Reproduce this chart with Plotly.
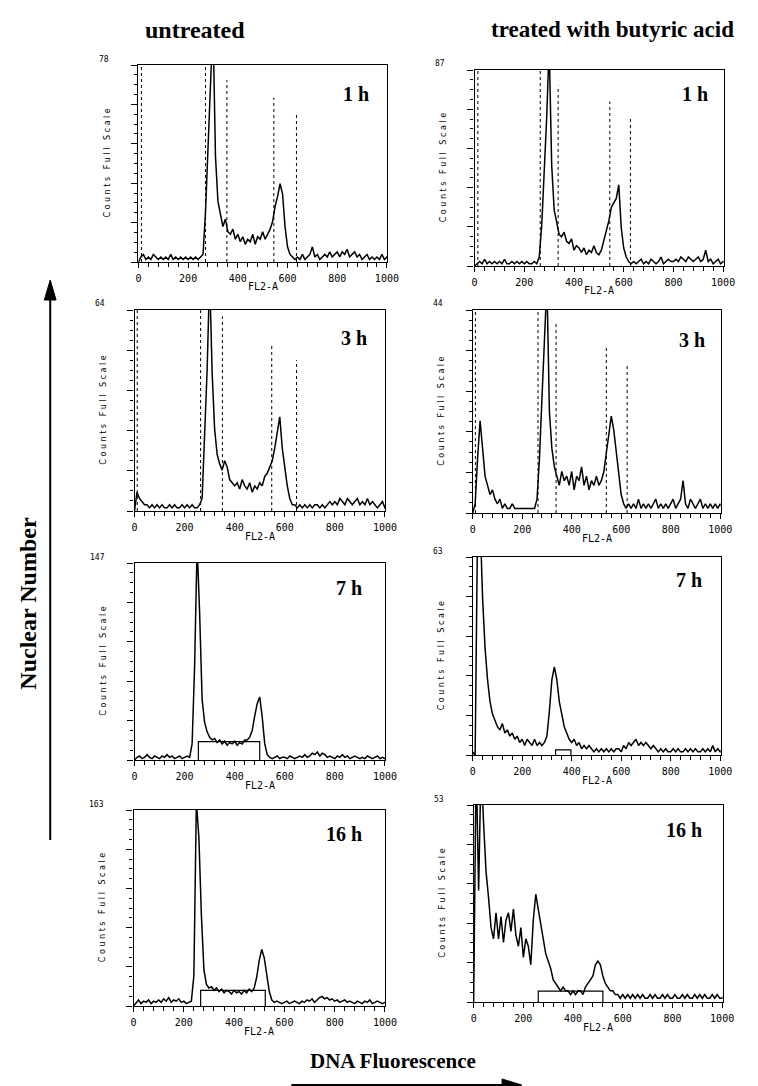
import plotly.graph_objects as go

W, H = 758, 1086

# ---------------- data (counts per 10-channel bin) ----------------
CHANNELS = list(range(0, 1030, 10))

UNTREATED_1H = [
    0, 2, 3, 1, 2, 1, 3, 2, 1, 2,
    1, 2, 1, 3, 1, 2, 1, 2, 1, 2,
    1, 2, 1, 2, 1, 2, 3, 20, 45, 72,
    95, 42, 24, 19, 14, 17, 12, 11, 13, 9,
    11, 8, 10, 7, 9, 8, 11, 7, 10, 9,
    12, 9, 11, 13, 16, 22, 26, 31, 27, 14,
    6, 3, 2, 1, 2, 1, 3, 1, 2, 3,
    6, 2, 3, 1, 2, 3, 2, 4, 2, 3,
    4, 2, 4, 3, 5, 2, 3, 4, 2, 3,
    1, 2, 3, 1, 2, 1, 2, 1, 3, 1,
    2, 1, 2]

TREATED_1H = [
    0, 1, 2, 1, 3, 1, 2, 1, 2, 1,
    2, 1, 3, 1, 1, 2, 1, 2, 1, 2,
    1, 2, 1, 1, 2, 1, 4, 18, 40, 66,
    98, 45, 25, 20, 14, 13, 15, 11, 10, 12,
    7, 9, 8, 6, 8, 5, 7, 6, 9, 6,
    5, 7, 11, 15, 20, 26, 28, 30, 36, 17,
    8, 4, 2, 1, 2, 1, 2, 3, 1, 2,
    1, 3, 2, 1, 2, 4, 1, 2, 3, 2,
    2, 3, 2, 4, 3, 2, 4, 3, 2, 3,
    4, 2, 3, 7, 2, 3, 1, 2, 3, 1,
    2, 1, 2]

UNTREATED_3H = [
    0, 6, 4, 3, 2, 2, 1, 2, 1, 2,
    1, 2, 1, 1, 2, 1, 2, 1, 1, 2,
    1, 2, 1, 2, 1, 1, 2, 4, 22, 45,
    75, 44, 26, 18, 15, 13, 16, 14, 10, 9,
    8, 9, 7, 10, 8, 7, 9, 6, 8, 7,
    9, 8, 11, 12, 14, 16, 20, 25, 30, 20,
    14, 8, 4, 2, 2, 1, 2, 1, 2, 1,
    2, 1, 2, 2, 1, 2, 1, 2, 3, 2,
    3, 2, 4, 3, 2, 4, 3, 2, 3, 4,
    2, 3, 2, 4, 2, 3, 2, 1, 2, 3,
    1, 2, 1]

TREATED_3H = [
    0, 2, 12, 20, 14, 8, 6, 4, 5, 3,
    2, 3, 1, 2, 1, 1, 2, 1, 1, 1,
    1, 1, 1, 1, 1, 1, 3, 12, 25, 40,
    50, 22, 14, 10, 8, 6, 9, 7, 8, 6,
    9, 5, 8, 7, 10, 6, 8, 5, 7, 6,
    8, 6, 7, 9, 13, 17, 21, 18, 13, 8,
    4, 2, 1, 2, 1, 2, 1, 3, 1, 2,
    1, 2, 1, 2, 3, 1, 2, 1, 2, 1,
    2, 3, 1, 2, 3, 7, 2, 1, 3, 2,
    1, 2, 3, 1, 2, 1, 2, 1, 2, 1,
    2, 1, 1]

UNTREATED_7H = [
    0, 2, 3, 1, 2, 4, 2, 1, 3, 2,
    1, 3, 2, 4, 2, 3, 1, 2, 3, 1,
    2, 3, 2, 12, 70, 160, 110, 45, 28, 21,
    17, 15, 16, 13, 15, 12, 14, 11, 13, 12,
    14, 11, 13, 12, 15, 15, 17, 22, 33, 42,
    47, 32, 12, 4, 2, 1, 2, 3, 1, 2,
    2, 1, 3, 2, 1, 2, 3, 2, 4, 2,
    3, 5, 4, 6, 3, 5, 4, 2, 3, 2,
    1, 3, 2, 4, 2, 3, 1, 2, 3, 2,
    1, 2, 1, 3, 2, 1, 2, 3, 1, 2,
    1, 2, 1]

TREATED_7H = [
    1, 0, 75, 75, 50, 34, 24, 17, 13, 11,
    9, 8, 10, 7, 8, 6, 7, 5, 6, 4,
    5, 3, 5, 4, 3, 5, 3, 4, 3, 4,
    6, 14, 24, 28, 24, 17, 13, 9, 7, 5,
    4, 5, 3, 4, 2, 3, 2, 3, 2, 1,
    2, 1, 2, 1, 2, 1, 2, 1, 2, 2,
    1, 3, 2, 4, 3, 4, 5, 3, 4, 3,
    4, 3, 2, 3, 2, 1, 2, 1, 2, 1,
    1, 2, 1, 2, 1, 1, 2, 1, 2, 1,
    2, 1, 1, 2, 1, 2, 1, 3, 1, 2,
    1, 2, 1]

UNTREATED_16H = [
    0, 3, 5, 2, 4, 3, 5, 2, 4, 3,
    5, 3, 6, 4, 7, 3, 5, 4, 6, 3,
    4, 2, 3, 4, 25, 170, 140, 75, 30, 18,
    15, 16, 13, 15, 12, 14, 11, 13, 12, 10,
    13, 11, 12, 10, 13, 11, 14, 12, 15, 24,
    38, 47, 40, 25, 12, 5, 3, 4, 3, 2,
    3, 4, 2, 3, 4, 3, 2, 4, 3, 5,
    4, 6, 3, 5, 7, 8, 6, 7, 5, 6,
    4, 5, 3, 4, 5, 3, 4, 3, 2, 4,
    3, 2, 4, 3, 5, 2, 3, 4, 3, 2,
    3, 4, 2]

TREATED_16H = [
    0, 65, 30, 65, 48, 35, 28, 20, 17, 24,
    17, 23, 16, 22, 24, 19, 25, 18, 15, 20,
    12, 17, 15, 10, 22, 29, 25, 21, 17, 13,
    11, 9, 6, 5, 4, 3, 4, 3, 3, 2,
    3, 2, 3, 3, 2, 4, 5, 6, 7, 10,
    11, 10, 7, 5, 4, 3, 3, 2, 2, 1,
    2, 1, 2, 1, 2, 1, 2, 1, 2, 1,
    1, 2, 1, 2, 1, 1, 2, 1, 2, 1,
    1, 2, 1, 1, 2, 1, 2, 1, 1, 2,
    1, 2, 1, 2, 1, 1, 2, 1, 2, 1,
    1, 2, 1]

SERIES = [UNTREATED_1H, TREATED_1H, UNTREATED_3H, TREATED_3H,
          UNTREATED_7H, TREATED_7H, UNTREATED_16H, TREATED_16H]
FULL_SCALE = [78, 87, 64, 44, 147, 63, 163, 53]
TIME_LABELS = ["1 h", "1 h", "3 h", "3 h", "7 h", "7 h", "16 h", "16 h"]

# gating markers (dashed) for 1 h and 3 h panels: channel and top (counts)
GATE_X = [[12, 270, 356, 545, 636], [13, 264, 336, 544, 627],
          [11, 264, 351, 548, 647], [11, 264, 337, 540, 624],
          [], [], [], []]
GATE_TOP = [[78, 78, 72, 65, 59], [87, 87, 80, 73, 66],
            [64, 64, 62, 53, 48], [44, 44, 41, 36, 32],
            [], [], [], []]
# S-phase marker boxes for 7 h and 16 h panels: (start, end, height)
BOXES = [None, None, None, None,
         (255, 500, 13.7), (335, 397, 1.6), (267, 524, 13), (260, 520, 2.9)]

X_TICKS = [0, 200, 400, 600, 800, 1000]

# ---------------- layout (pixel boxes of the 8 panels) ----------------
PANEL_PX = [  # left, right, top, bottom
    (130, 384, 57, 254), (473, 727, 62, 258),
    (126, 382, 302, 503), (471, 724, 302, 505),
    (126, 382, 555, 752), (471, 724, 549, 747),
    (125, 382, 802, 998), (472, 726, 797, 994),
]
LABEL_PX = [(367, 86), (713, 86), (365, 330), (710, 332),
            (360, 580), (707, 572), (360, 826), (707, 822)]


def px(x):
    return x / W


def py(y):
    return 1 - y / H


fig = go.Figure()
layout = dict(width=W, height=H, margin=dict(l=0, r=0, t=0, b=0),
              paper_bgcolor="white", plot_bgcolor="white", showlegend=False)
annotations = []
shapes = []

MONO = "DejaVu Sans Mono"
SERIF = "Liberation Serif"

for i in range(8):
    n = i + 1
    xa, ya = f"x{n}", f"y{n}"
    left, right, top, bottom = PANEL_PX[i]
    fs = FULL_SCALE[i]

    fig.add_trace(go.Scatter(x=CHANNELS, y=SERIES[i], mode="lines",
                             line=dict(color="black", width=1.5),
                             xaxis=xa, yaxis=ya, hoverinfo="skip"))
    for gx, gt in zip(GATE_X[i], GATE_TOP[i]):
        fig.add_trace(go.Scatter(x=[gx, gx], y=[0, gt], mode="lines",
                                 line=dict(color="black", width=1, dash="3px,3px"),
                                 xaxis=xa, yaxis=ya, hoverinfo="skip"))
    if BOXES[i] is not None:
        b0, b1, bh = BOXES[i]
        fig.add_trace(go.Scatter(x=[b0, b0, b1, b1], y=[0, bh, bh, 0], mode="lines",
                                 line=dict(color="black", width=1.2),
                                 xaxis=xa, yaxis=ya, hoverinfo="skip"))

    key_x = "xaxis" if n == 1 else f"xaxis{n}"
    key_y = "yaxis" if n == 1 else f"yaxis{n}"
    layout[key_x] = dict(
        domain=[px(left), px(right)], range=[0, 1002], anchor=ya,
        showline=True, mirror=True, linecolor="black", linewidth=1.3,
        ticks="outside", ticklen=5, tickwidth=1, tickcolor="black",
        tickvals=X_TICKS, ticktext=[str(v) for v in X_TICKS],
        tickfont=dict(family=MONO, size=10, color="black"),
        ticklabelstandoff=2,
        minor=dict(dtick=40, ticks="outside", ticklen=4, tickcolor="black", tickwidth=1),
        showgrid=False, zeroline=False, fixedrange=True)
    layout[key_y] = dict(
        domain=[py(bottom), py(top)], range=[0, fs], anchor=xa,
        showline=True, mirror=True, linecolor="black", linewidth=1.3,
        ticks="outside", ticklen=6, tickwidth=1, tickcolor="black",
        dtick=fs / 5, showticklabels=False,
        minor=dict(dtick=fs / 20, ticks="outside", ticklen=3, tickcolor="black", tickwidth=1),
        showgrid=False, zeroline=False, fixedrange=True)

    # full-scale value
    annotations.append(dict(x=px(left - 28), y=py(top - 6), xref="paper", yref="paper",
                            text=str(fs), showarrow=False, xanchor="right", yanchor="middle",
                            font=dict(family=MONO, size=8, color="black")))
    # y axis title
    annotations.append(dict(x=px(left - 32), y=py((top + bottom) / 2), xref="paper", yref="paper",
                            text="C o u n t s   F u l l   S c a l e", textangle=-90,
                            showarrow=False, xanchor="center", yanchor="middle",
                            font=dict(family="DejaVu Sans", size=8, color="black")))
    # x axis title
    annotations.append(dict(x=px((left + right) / 2), y=py(bottom + 25), xref="paper", yref="paper",
                            text="FL2-A", showarrow=False, xanchor="center", yanchor="middle",
                            font=dict(family=MONO, size=10, color="black")))
    # time label
    lx, ly = LABEL_PX[i]
    annotations.append(dict(x=px(lx), y=py(ly), xref="paper", yref="paper",
                            text=f"<b>{TIME_LABELS[i]}</b>", showarrow=False,
                            xanchor="right", yanchor="middle",
                            font=dict(family=SERIF, size=20, color="black")))

# column headers
annotations.append(dict(x=px(188), y=py(22), xref="paper", yref="paper", text="<b>untreated</b>",
                        showarrow=False, xanchor="center", yanchor="middle",
                        font=dict(family=SERIF, size=24, color="black")))
annotations.append(dict(x=px(614), y=py(22), xref="paper", yref="paper",
                        text="<b>treated with butyric acid</b>",
                        showarrow=False, xanchor="center", yanchor="middle",
                        font=dict(family=SERIF, size=23, color="black")))
# outer axis titles
annotations.append(dict(x=px(17), y=py(595), xref="paper", yref="paper", text="<b>Nuclear Number</b>",
                        textangle=-90, showarrow=False, xanchor="center", yanchor="middle",
                        font=dict(family=SERIF, size=24, color="black")))
annotations.append(dict(x=px(390), y=py(1053), xref="paper", yref="paper", text="<b>DNA Fluorescence</b>",
                        showarrow=False, xanchor="center", yanchor="middle",
                        font=dict(family=SERIF, size=21, color="black")))

# arrows
shapes.append(dict(type="line", xref="paper", yref="paper", x0=px(40), x1=px(40), y0=py(832), y1=py(288),
                   line=dict(color="black", width=2)))
shapes.append(dict(type="path", xref="paper", yref="paper",
                   path=f"M {px(34)} {py(292)} L {px(40)} {py(272)} L {px(46)} {py(292)} Z",
                   fillcolor="black", line=dict(color="black", width=1)))
shapes.append(dict(type="line", xref="paper", yref="paper", x0=px(286), x1=px(505), y0=py(1077), y1=py(1077),
                   line=dict(color="black", width=2)))
shapes.append(dict(type="path", xref="paper", yref="paper",
                   path=f"M {px(501)} {py(1071)} L {px(521)} {py(1077)} L {px(501)} {py(1083)} Z",
                   fillcolor="black", line=dict(color="black", width=1)))

layout["annotations"] = annotations
layout["shapes"] = shapes
fig.update_layout(**layout)
fig.write_html("out.html")
